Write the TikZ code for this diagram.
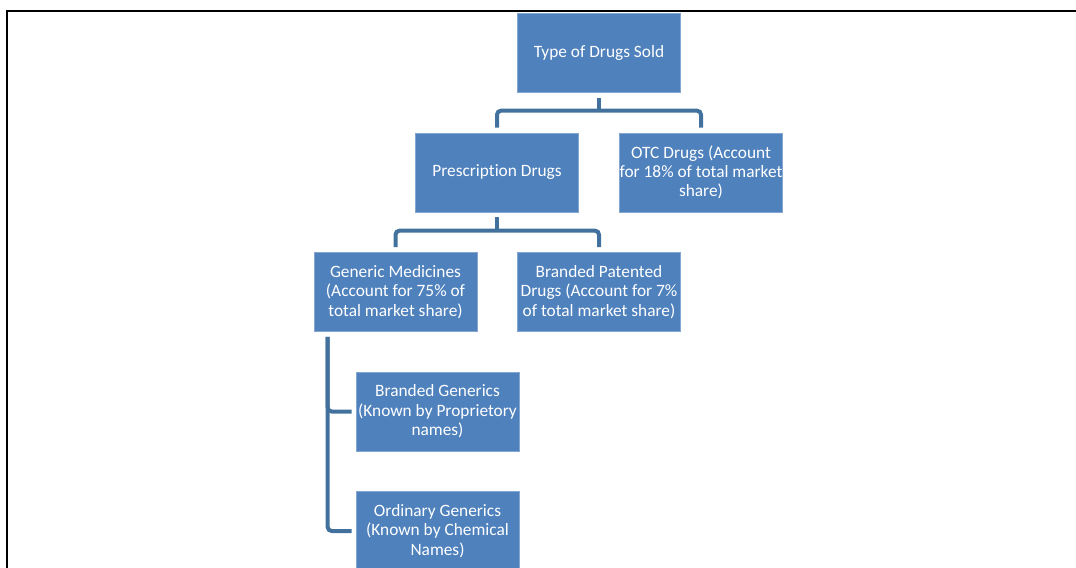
\documentclass[tikz,border=0pt]{standalone}
\usepackage{fontspec}
\setmainfont{Carlito}[Ligatures=NoCommon]
\usetikzlibrary{positioning}
\definecolor{boxblue}{RGB}{79,129,189}
\definecolor{linkblue}{RGB}{65,113,156}

\tikzset{
  drugbox/.style={draw=boxblue!70!white, line width=0.5pt, fill=boxblue,
    text=white, align=center, inner sep=0pt,
    minimum width=122.25pt, minimum height=59.25pt,
    font=\fontsize{13}{14.5}\selectfont},
  link/.style={draw=linkblue, line width=3pt, rounded corners=3pt,
    shorten <=3.75pt, shorten >=3.75pt},
  stem/.style={link, shorten >=0pt},
  sidelink/.style={link, shorten >=3pt}
}

\begin{document}
\begin{tikzpicture}[x=0.75pt, y=-0.75pt]
    \useasboundingbox (0,0) rectangle (1076,568);
    \clip (0,0) rectangle (1076,568);

    % page frame
    \draw[line width=1.2pt] (7,600) -- (7,11) -- (1100,11);

    \node[drugbox] (type)  at (599,53)  {Type of Drugs Sold};

    \node[drugbox] (presc) at (497,172.5) {Prescription Drugs};
    \node[drugbox] (otc)   at (701,172.5) {OTC Drugs (Account\\for 18\% of total market\\share)};

    \node[drugbox] (gen)   at (395.5,292) {Generic Medicines\\(Account for 75\% of\\total market share)};
    \node[drugbox] (brand) at (599,292)   {Branded Patented\\Drugs (Account for 7\%\\of total market share)};

    \node[drugbox] (bgen)  at (437.5,411.5) {Branded Generics\\(Known by Proprietory\\names)};
    \node[drugbox] (ogen)  at (437.5,531) {Ordinary Generics\\(Known by Chemical\\Names)};

    % hierarchy links
    \draw[stem] (type.south) -- ++(0,18);
    \draw[link] (presc.north) -- ++(0,-22) -| (otc.north);

    \draw[stem] (presc.south) -- ++(0,19);
    \draw[link] (gen.north) -- ++(0,-21.5) -| (brand.north);

    \draw[sidelink] ([xshift=10.5pt]gen.south west) |- (bgen.west);
    \draw[sidelink] ([xshift=10.5pt]gen.south west) |- (ogen.west);
\end{tikzpicture}
\end{document}
